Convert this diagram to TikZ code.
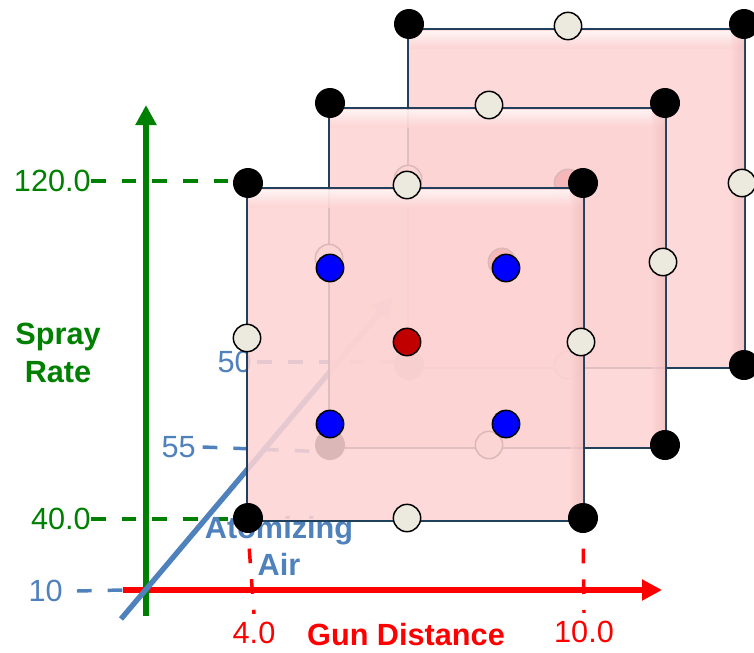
\documentclass[tikz,border=0pt]{standalone}
\usepackage{fontspec}
\setmainfont{Liberation Sans}
\usetikzlibrary{arrows.meta}
\definecolor{sprayc}{HTML}{008000}
\definecolor{gunc}{HTML}{FF0000}
\definecolor{airc}{HTML}{4F81BD}
\definecolor{facebg}{HTML}{FDD3D3}
\definecolor{facedark}{HTML}{E8B4B4}
\definecolor{faceline}{HTML}{21405C}
\definecolor{midc}{HTML}{ECEADF}
\definecolor{ctrc}{HTML}{C00000}
\definecolor{factc}{HTML}{0000FF}
\newcommand{\numfont}{\fontsize{23}{28}\selectfont}
\newcommand{\labfont}{\fontsize{23}{28}\selectfont\bfseries}
\tikzset{
  axis/.style={line width=4pt,-{Triangle[length=15pt,width=15pt]}},
  guide/.style={line width=2.6pt,dash pattern=on 11pt off 12pt},
  tick/.style={inner sep=0pt,font=\numfont},
  axlab/.style={inner sep=0pt,font=\labfont,align=center},
  face/.style={draw=faceline,line width=1.6pt,fill=facebg,fill opacity=0.87},
  cornerpt/.style={circle,fill=black,inner sep=0pt,minimum size=22.5pt},
  edgept/.style={circle,draw=black,line width=1.1pt,fill=midc,inner sep=0pt,minimum size=20.5pt},
  ctrpt/.style={edgept,fill=ctrc},
  factpt/.style={edgept,fill=factc},
}

\begin{document}
\begin{tikzpicture}[x=0.75pt,y=-0.75pt]
  \useasboundingbox (0,0) rectangle (754,653);
  % axes first, the faces lie over them
  \coordinate (gun0) at (123,590);
  \coordinate (gun1) at (662,590);
  \coordinate (spray0) at (146,616);
  \coordinate (spray1) at (146,105);
  \coordinate (air0) at (121,619);
  \coordinate (air1) at (393,297);
  \draw[axis,gunc] (gun0) -- (gun1);
  \draw[axis,sprayc] (spray0) -- (spray1);
  \draw[axis,airc] (air0) -- (air1);

  % levels
  \node[tick,text=sprayc,anchor=east] (s120) at (91,181) {120.0};
  \node[tick,text=sprayc,anchor=east] (s40) at (91,519) {40.0};
  \node[tick,text=airc,anchor=east] (a10) at (63,591) {10};
  \node[tick,text=airc,anchor=east] (a55) at (196,447) {55};
  \node[tick,text=airc,anchor=east] (a50) at (252,362) {50};
  \node[tick,text=gunc] (g4) at (254,633) {4.0};
  \node[tick,text=gunc] (g10) at (584,632) {10.0};
  \coordinate (y120) at (248,181);
  \coordinate (y40) at (248,519);
  \coordinate (z55) at (330,452);
  \coordinate (z50) at (408,362);
  \coordinate (x4) at (247,518);
  \coordinate (x10) at (583,518);
  \draw[guide,sprayc] (s120.east) -- (y120);
  \draw[guide,sprayc] (s40.east) -- (y40);
  \draw[guide,airc] ([xshift=10.5pt]a10.east) -- (gun0);
  \draw[guide,airc] ([xshift=5pt]a55.east) -- (z55);
  \draw[guide,airc] ([xshift=4pt]a50.east) -- (z50);
  \draw[guide,gunc] (x4) -- ([yshift=6pt]g4.north);
  \draw[guide,gunc] (x10) -- ([yshift=6pt]g10.north);

  \node[axlab,text=sprayc] (spray) at (58,353) {Spray\\Rate};
  \node[axlab,text=gunc] (gun) at (406,635) {Gun Distance};
  \node[axlab,text=airc] (air) at (279,546) {Atomizing\\Air};

  % faces, back to front
  \foreach \f/\ox/\oy/\h/\cx in {b/409/24/341/159, m/330/103/342/172, f/248/183/335/159}{
    \begin{scope}[shift={(\ox,\oy)}]
      \draw[face] (-1,5) rectangle (336,\h+3);
      \shade[top color=white,bottom color=facebg,fill opacity=0.7] (1,7) rectangle (334,24);
      \shade[left color=facebg,right color=facedark,fill opacity=0.5] (322,7) rectangle (335,\h+2);
      \node[cornerpt] (\f-tl) at (0,0) {};
      \node[cornerpt] (\f-tr) at (335,0) {};
      \node[cornerpt] (\f-bl) at (0,\h) {};
      \node[cornerpt] (\f-br) at (335,\h) {};
      \node[edgept] (\f-t) at (159,2) {};
      \node[edgept] (\f-l) at (-1,155) {};
      \node[edgept] (\f-r) at (333,159) {};
      \node[edgept] (\f-b) at (159,\h) {};
      \node[ctrpt] (\f-c) at (\cx,159) {};
    \end{scope}
  }
  \node[factpt] (f-p1) at (330,268) {};
  \node[factpt] (f-p2) at (506,268) {};
  \node[factpt] (f-p3) at (330,424) {};
  \node[factpt] (f-p4) at (506,424) {};
\end{tikzpicture}
\end{document}
